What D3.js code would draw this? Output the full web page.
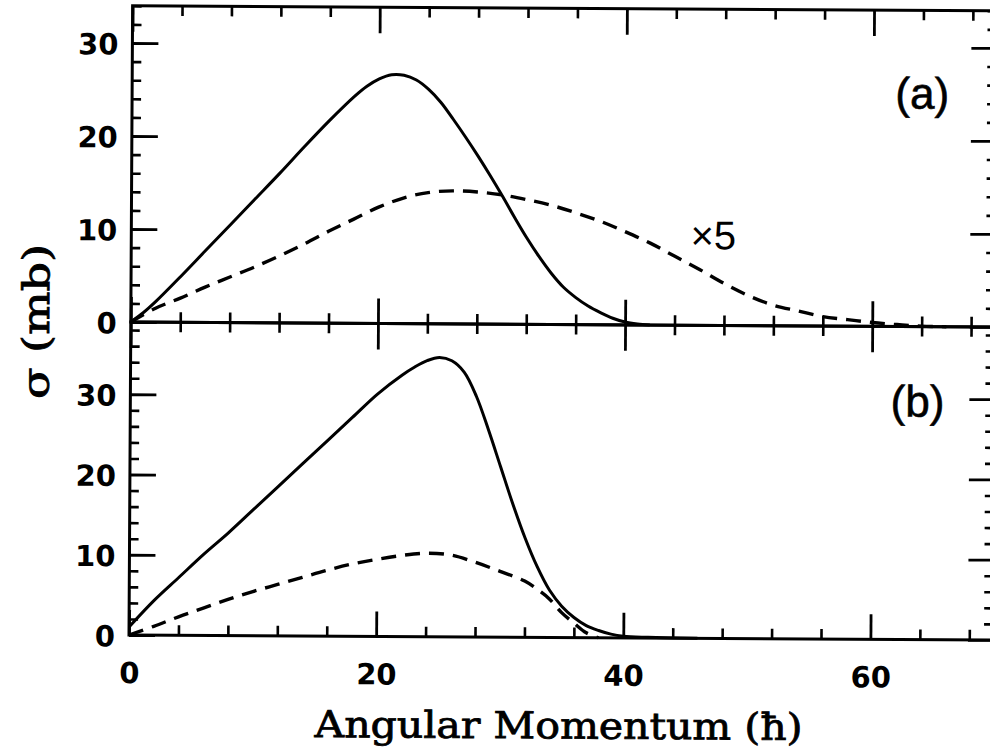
<!DOCTYPE html>
<html>
<head>
<meta charset="utf-8">
<script src="https://cdn.jsdelivr.net/npm/d3@7"></script>
<style>
  html, body { margin: 0; padding: 0; background: #fff; }
  svg { display: block; }
</style>
</head>
<body>
<svg id="chart" width="990" height="752"></svg>
<script>
// Angular momentum (units of hbar) for each panel
const momentumSolidA = [0,1,2,4,6,8,10,12,14,16,18,19,20,21,22,23,24,25,26,27,28,29,30,31,32,33,34,35,36,37,38,39,40,41,42];
const sigmaSolidA    = [0,1.0,2.2,4.9,7.7,10.5,13.3,16.1,19.0,21.8,24.4,25.5,26.3,26.75,26.7,26.2,25.2,23.8,22.0,20.1,18.1,16.0,13.8,11.5,9.3,7.3,5.5,4.0,2.9,2.0,1.3,0.7,0.3,0.1,0];

const momentumDashA = [0,2,4,6,8,10,12,14,16,18,20,22,24,26,28,30,32,34,36,38,40,42,44,46,48,50,52,54,56,58,60,62,64,66];
const sigmaDashA    = [0,1.5,2.6,3.8,4.9,6.0,7.2,8.5,9.9,11.2,12.5,13.5,14.1,14.3,14.2,13.9,13.4,12.8,12.0,11.1,10.0,8.8,7.4,6.0,4.5,3.2,2.2,1.6,1.0,0.7,0.4,0.2,0.05,0];

const momentumSolidB = [0,2,4,6,8,10,12,14,16,18,20,22,23,24,25,26,27,28,29,30,31,32,33,34,35,36,37,38,39,40,42,46];
const sigmaSolidB    = [1.0,4.3,7.2,10.1,12.8,15.7,18.6,21.5,24.4,27.3,30.2,32.6,33.6,34.4,34.8,34.4,33.0,30.0,25.8,21.2,16.6,12.4,8.8,5.9,3.9,2.5,1.5,0.9,0.45,0.2,0.08,0];

const momentumDashB = [0,2,4,6,8,10,12,14,16,18,20,22,24,26,28,30,32,33,34,35,36,37,38];
const sigmaDashB    = [0,1.1,2.3,3.4,4.5,5.5,6.4,7.3,8.2,9.0,9.6,10.1,10.4,10.2,9.3,8.2,7.0,6.0,4.8,3.1,1.8,0.6,0];

const xTickLabels = [0, 20, 40, 60];
const yTickLabels = [0, 10, 20, 30];
const panelLabels = ["(a)", "(b)"];
const scaleNote = "\u00d75";
const xTitle = "Angular Momentum (\u0127)";
const yTitle = "\u03c3 (mb)";

const svg = d3.select("#chart");
svg.append("rect").attr("width", 990).attr("height", 752).attr("fill", "#fff");

// the whole figure sits with a very slight clockwise tilt
const g = svg.append("g").attr("transform", "rotate(0.33,130.8,322)");

const x = d3.scaleLinear().domain([0, 70]).range([130.8, 995.8]);
const yA = d3.scaleLinear().domain([0, 34]).range([322, 5.8]);
const yB = d3.scaleLinear().domain([0, 39]).range([635, 322]);

const majorX = d3.range(0, 71, 20);
const minorX = d3.range(0, 71, 4).filter(v => v % 20 !== 0);

const tickFont = "'DejaVu Sans', Verdana, sans-serif";
const sansFont = "'Liberation Sans', Arial, sans-serif";
const titleFont = "'DejaVu Serif', 'Liberation Serif', serif";

function styleAxis(sel, width) {
  sel.select(".domain").remove();
  sel.selectAll(".tick line").attr("stroke", "#000").attr("stroke-width", width);
}

function drawPanel(y, yMax, top, bottom, showXLabels) {
  const majorY = d3.range(0, yMax + 1, 10);
  const minorY = d3.range(0, yMax + 1, 2).filter(v => v % 10 !== 0);

  // left axis, ticks pointing inward
  const lMinor = g.append("g").attr("transform", `translate(${x(0)},0)`)
    .call(d3.axisLeft(y).tickValues(minorY).tickSizeInner(-9).tickSizeOuter(0).tickFormat(""));
  styleAxis(lMinor, 2.6);
  const lMajor = g.append("g").attr("transform", `translate(${x(0)},0)`)
    .call(d3.axisLeft(y).tickValues(majorY.filter(v => yTickLabels.includes(v))).tickSizeInner(-26).tickSizeOuter(0).tickPadding(14));
  styleAxis(lMajor, 2.8);
  lMajor.selectAll(".tick text")
    .attr("font-family", tickFont)
    .attr("font-weight", "bold").attr("font-size", 29).attr("fill", "#000")
    .attr("dy", "0.38em");

  // right axis
  const rMinor = g.append("g").attr("transform", `translate(${x(70)},0)`)
    .call(d3.axisRight(y).tickValues(minorY).tickSizeInner(-10).tickSizeOuter(0).tickFormat(""));
  styleAxis(rMinor, 2.6);
  const rMajor = g.append("g").attr("transform", `translate(${x(70)},0)`)
    .call(d3.axisRight(y).tickValues(majorY).tickSizeInner(-26).tickSizeOuter(0).tickFormat(""));
  styleAxis(rMajor, 2.8);

  // top edge, ticks pointing down
  const tMinor = g.append("g").attr("transform", `translate(0,${top})`)
    .call(d3.axisTop(x).tickValues(minorX).tickSizeInner(-10).tickSizeOuter(0).tickFormat(""));
  styleAxis(tMinor, 2.6);
  const tMajor = g.append("g").attr("transform", `translate(0,${top})`)
    .call(d3.axisTop(x).tickValues(majorX).tickSizeInner(-26).tickSizeOuter(0).tickFormat(""));
  styleAxis(tMajor, 2.8);

  // bottom edge, ticks pointing up
  const bMinor = g.append("g").attr("transform", `translate(0,${bottom})`)
    .call(d3.axisBottom(x).tickValues(minorX).tickSizeInner(-10).tickSizeOuter(0).tickFormat(""));
  styleAxis(bMinor, 2.6);
  const bMajor = g.append("g").attr("transform", `translate(0,${bottom})`)
    .call(d3.axisBottom(x).tickValues(majorX).tickSizeInner(-25).tickSizeOuter(0)
      .tickFormat(showXLabels ? (d => xTickLabels.includes(d) ? d : "") : ""));
  styleAxis(bMajor, 2.8);
  bMajor.selectAll(".tick text")
    .attr("font-family", tickFont)
    .attr("font-weight", "bold").attr("font-size", 29).attr("fill", "#000")
    .attr("y", 48).attr("dy", 0);

  // frame
  g.append("rect")
    .attr("x", x(0)).attr("y", top)
    .attr("width", x(70) - x(0)).attr("height", bottom - top)
    .attr("fill", "none").attr("stroke", "#000").attr("stroke-width", 3);
}

drawPanel(yA, 34, yA(34), yA(0), false);
drawPanel(yB, 38, yB(39), yB(0), true);

function drawCurve(xs, ys, y, dashed) {
  const pts = xs.map((v, i) => [v, ys[i]]);
  const line = d3.line()
    .x(d => x(d[0])).y(d => y(Math.max(0, d[1])))
    .curve(d3.curveCatmullRom.alpha(0.5));
  g.append("path")
    .attr("d", line(pts))
    .attr("fill", "none")
    .attr("stroke", "#000")
    .attr("stroke-width", dashed ? 3.4 : 3)
    .attr("stroke-dasharray", dashed ? "15,9" : null)
    .attr("stroke-linejoin", "round");
}

drawCurve(momentumSolidA, sigmaSolidA, yA, false);
drawCurve(momentumDashA, sigmaDashA, yA, true);
drawCurve(momentumSolidB, sigmaSolidB, yB, false);
drawCurve(momentumDashB, sigmaDashB, yB, true);

// panel tags and the scale note
g.append("text").attr("x", 921).attr("y", 104).attr("text-anchor", "middle")
  .attr("font-family", sansFont).attr("font-size", 44)
  .attr("stroke", "#000").attr("stroke-width", 0.6).text(panelLabels[0]);
g.append("text").attr("x", 918).attr("y", 412).attr("text-anchor", "middle")
  .attr("font-family", sansFont).attr("font-size", 44)
  .attr("stroke", "#000").attr("stroke-width", 0.6).text(panelLabels[1]);
g.append("text").attr("x", 690).attr("y", 246)
  .attr("font-family", sansFont).attr("font-size", 40).text(scaleNote);

// axis titles
g.append("text").attr("x", 561).attr("y", 736).attr("text-anchor", "middle")
  .attr("font-family", titleFont).attr("font-size", 37)
  .attr("stroke", "#000").attr("stroke-width", 0.8)
  .attr("textLength", 488).attr("lengthAdjust", "spacingAndGlyphs")
  .text(xTitle);
g.append("text")
  .attr("transform", "translate(49,322) rotate(-90)")
  .attr("text-anchor", "middle")
  .attr("font-family", titleFont).attr("font-size", 37)
  .attr("stroke", "#000").attr("stroke-width", 0.8)
  .attr("textLength", 155).attr("lengthAdjust", "spacingAndGlyphs")
  .text(yTitle);
</script>
</body>
</html>
